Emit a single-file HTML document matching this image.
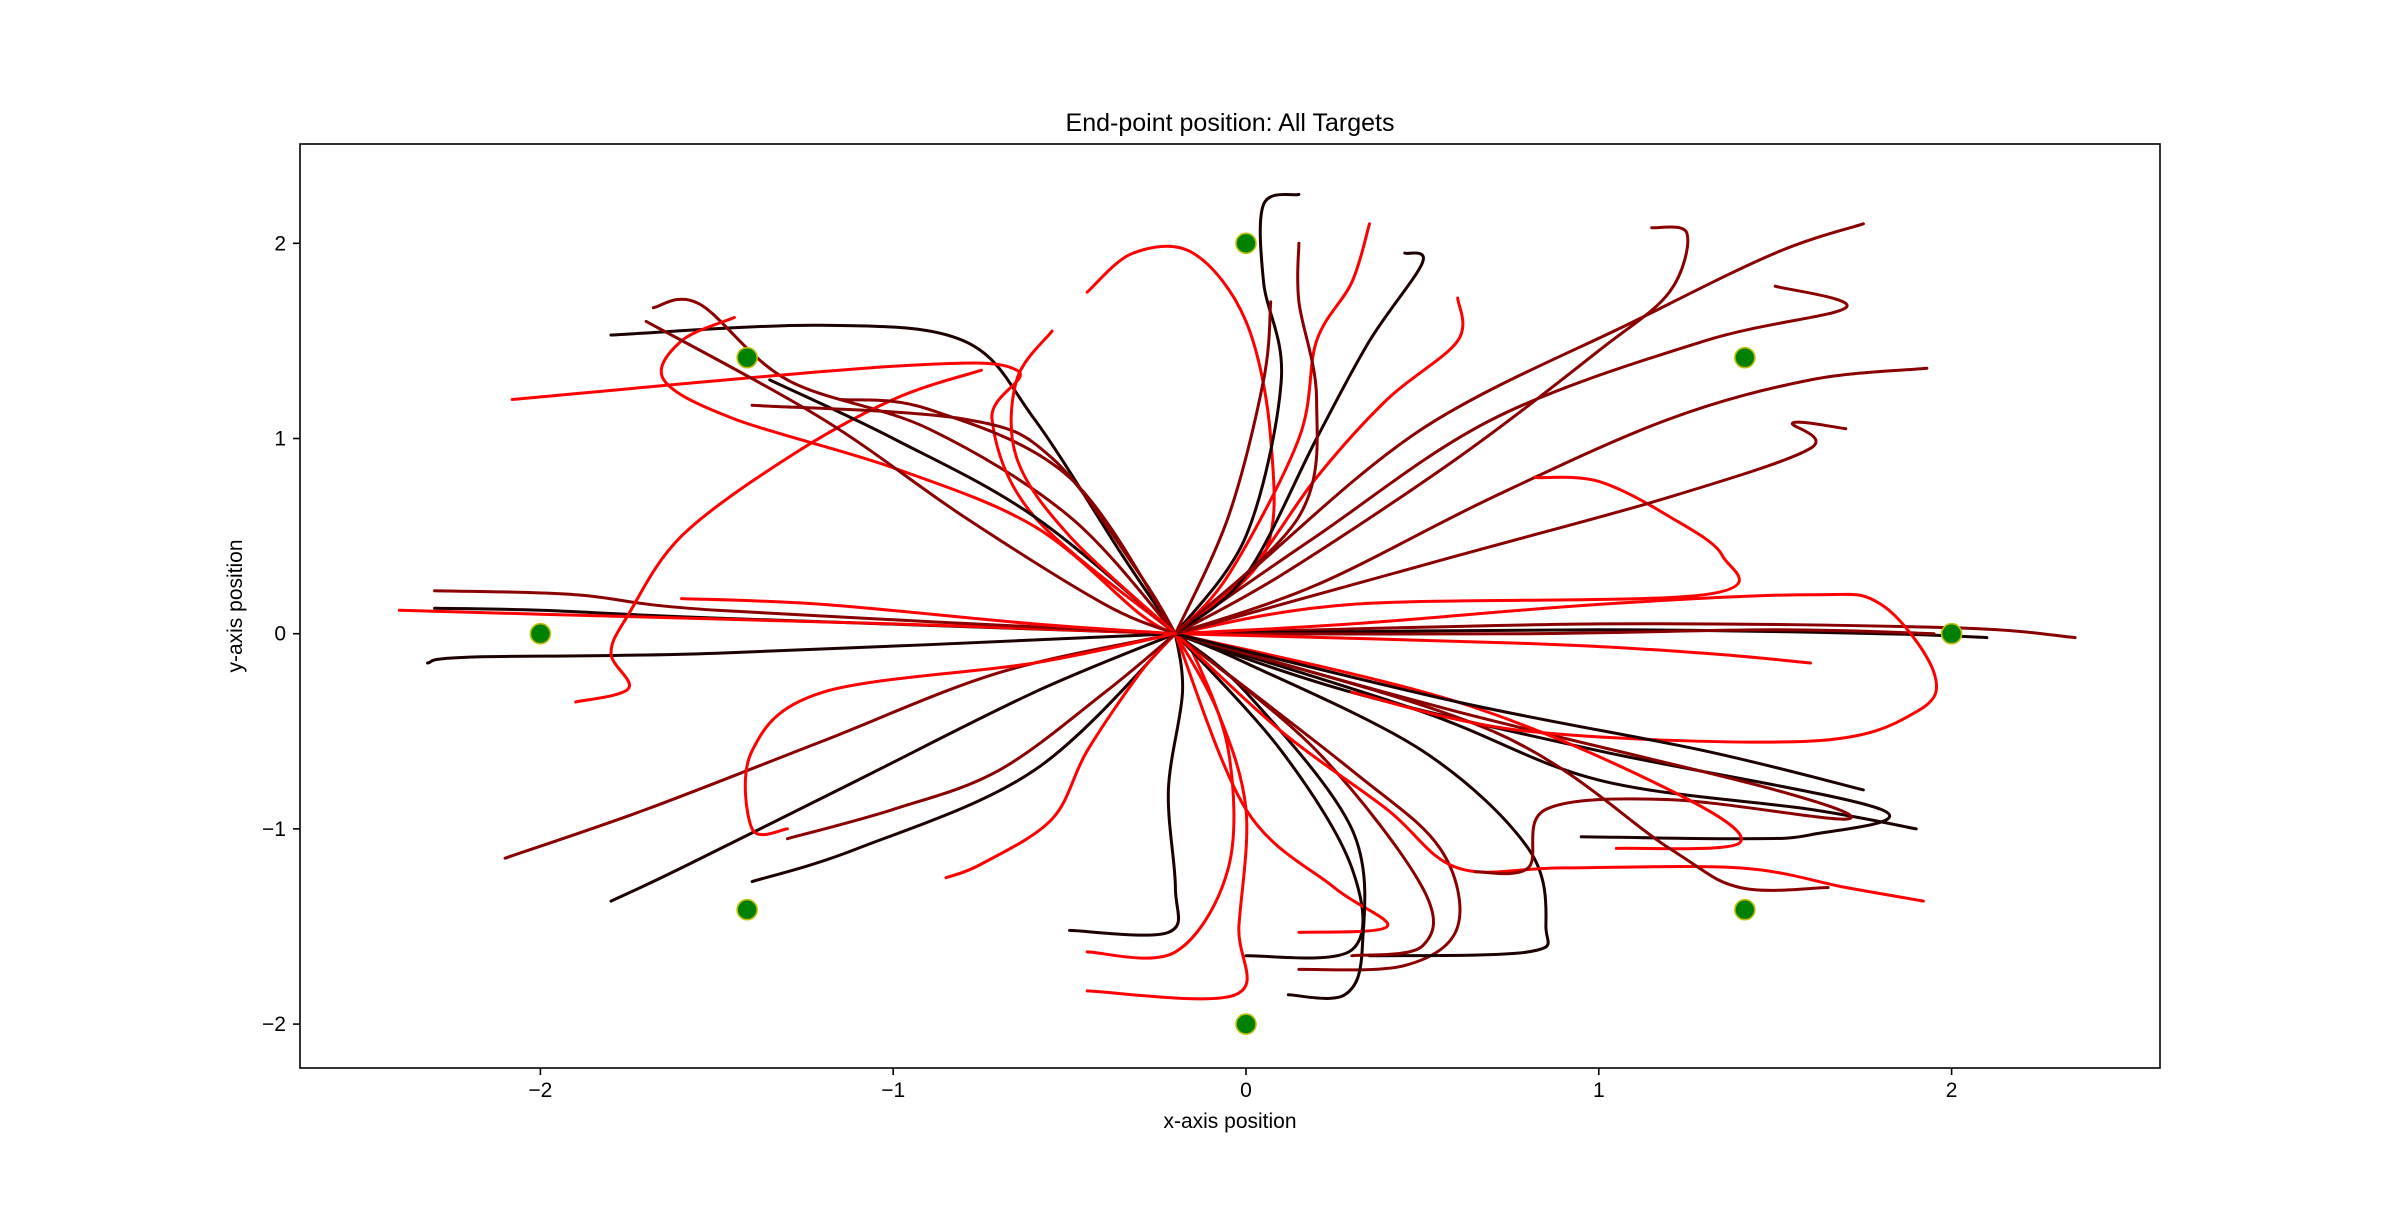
<!DOCTYPE html>
<html><head><meta charset="utf-8"><style>
html,body{margin:0;padding:0;background:#fff;}
svg text{font-family:"Liberation Sans","DejaVu Sans",sans-serif;fill:#000;}
</style></head><body>
<svg id="chart" width="2400" height="1200" viewBox="0 0 2400 1200" xmlns="http://www.w3.org/2000/svg">
<rect width="2400" height="1200" fill="#fff"/>
<text x="1230" y="131" font-size="25" text-anchor="middle">End-point position: All Targets</text>
<g id="plot"></g>
<rect x="300" y="144" width="1860" height="924" fill="none" stroke="#000" stroke-width="1.6"/>
<g id="xticks"></g>
<g id="yticks"></g>
<text x="1230" y="1128" font-size="21" text-anchor="middle">x-axis position</text>
<text x="242" y="606" font-size="21" text-anchor="middle" transform="rotate(-90 242 606)">y-axis position</text>
</svg>
<script>
const xTicks=[-2,-1,0,1,2];
const yTicks=[-2,-1,0,1,2];
const xTickLabels=["−2","−1","0","1","2"];
const yTickLabels=["−2","−1","0","1","2"];
const targetsX=[0,1.414,2,1.414,0,-1.414,-2,-1.414];
const targetsY=[2,1.414,0,-1.414,-2,-1.414,0,1.414];
// trajectory colour shade (0=black, 1=dark red, 2=red)
const trajShade=[0,1,2,2,2,0,2,1,0,2,1,0,0,2,2,1,0,2,0,2,2,1,0,0,1,0,2,0,1,2,1,1,0,1,2,2,0,1,1,1,2,1,2,1,0,0,2,1,1,0,1,1,2,1,2];
const trajectories=[
[[-0.2,0],[-0.35,0.4],[-0.6,1.1],[-0.8,1.5],[-1.2,1.58],[-1.8,1.53]],
[[-0.2,0],[-0.5,0.6],[-0.9,1.05],[-1.3,1.3],[-1.55,1.69],[-1.68,1.67]],
[[-0.2,0],[-0.6,0.6],[-0.72,1.1],[-0.65,1.35],[-1.0,1.37],[-2.08,1.2]],
[[-0.2,0],[-0.3,0.1],[-0.6,0.55],[-1.0,0.85],[-1.45,1.1],[-1.65,1.3],[-1.6,1.5],[-1.45,1.62]],
[[-0.2,0],[0.05,0.4],[0.07,1.0],[0.0,1.6],[-0.15,1.95],[-0.32,1.95],[-0.45,1.75]],
[[-0.2,0],[-1.5,0.08],[-2.0,0.12],[-2.3,0.13]],
[[-0.2,0],[-1.0,0.05],[-2.0,0.1],[-2.4,0.12]],
[[-0.2,0],[-1.5,0.12],[-1.9,0.2],[-2.3,0.22]],
[[-0.2,0],[-1.5,-0.1],[-2.2,-0.12],[-2.32,-0.15]],
[[-0.75,1.35],[-1.0,1.2],[-1.3,0.9],[-1.6,0.5],[-1.75,0.1],[-1.8,-0.1],[-1.75,-0.28],[-1.9,-0.35]],
[[-0.2,0],[-0.7,-0.2],[-1.2,-0.55],[-1.7,-0.9],[-2.1,-1.15]],
[[-0.2,0],[-0.6,-0.3],[-1.1,-0.75],[-1.6,-1.2],[-1.8,-1.37]],
[[-0.2,0],[-0.6,-0.7],[-1.1,-1.1],[-1.4,-1.27]],
[[-0.2,0],[-0.6,-0.15],[-1.2,-0.3],[-1.4,-0.6],[-1.4,-1.0],[-1.3,-1.0]],
[[-0.2,0],[-0.3,-0.2],[-0.45,-0.6],[-0.55,-0.95],[-0.75,-1.18],[-0.85,-1.25]],
[[-0.2,0],[-0.4,-0.3],[-0.7,-0.7],[-1.0,-0.9],[-1.3,-1.05]],
[[-0.2,0],[-0.18,-0.3],[-0.22,-0.8],[-0.2,-1.3],[-0.22,-1.53],[-0.5,-1.52]],
[[-0.2,0],[-0.15,-0.1],[-0.05,-0.6],[-0.05,-1.2],[-0.2,-1.63],[-0.45,-1.63]],
[[-0.2,0],[0.1,-0.6],[0.3,-1.2],[0.3,-1.62],[0.0,-1.65]],
[[-0.2,0],[-0.08,-0.4],[0.0,-0.9],[-0.02,-1.5],[-0.03,-1.85],[-0.45,-1.83]],
[[-0.2,0],[0.0,-0.9],[0.25,-1.3],[0.4,-1.5],[0.15,-1.53]],
[[-0.2,0],[0.3,-0.7],[0.55,-1.1],[0.6,-1.5],[0.45,-1.7],[0.15,-1.72]],
[[-0.2,0],[0.0,-0.3],[0.3,-1.0],[0.33,-1.6],[0.28,-1.85],[0.12,-1.85]],
[[-0.2,0],[0.0,-0.15],[0.5,-0.6],[0.8,-1.1],[0.85,-1.5],[0.8,-1.63],[0.35,-1.65]],
[[-0.2,0],[0.2,-0.6],[0.5,-1.3],[0.5,-1.6],[0.3,-1.65]],
[[-0.2,0],[0.3,-0.3],[1.0,-0.6],[1.8,-0.9],[1.6,-1.03],[1.4,-1.05],[0.95,-1.04]],
[[-0.2,0],[0.1,-0.5],[0.4,-0.9],[0.6,-1.2],[0.9,-1.2],[1.4,-1.2],[1.7,-1.3],[1.92,-1.37]],
[[-0.2,0],[0.5,-0.4],[1.0,-0.75],[1.6,-0.9],[1.9,-1.0]],
[[-0.2,0],[0.6,-0.4],[1.5,-0.8],[1.7,-0.95],[1.2,-0.85],[0.85,-0.9],[0.8,-1.2],[0.65,-1.22]],
[[-0.2,0],[0.6,-0.35],[1.2,-0.8],[1.4,-1.07],[1.05,-1.1]],
[[-0.2,0],[0.7,-0.5],[1.2,-1.1],[1.4,-1.3],[1.65,-1.3]],
[[-0.2,0],[1.0,0.05],[2.0,0.03],[2.35,-0.02]],
[[-0.2,0],[1.0,0.02],[1.8,0.0],[2.1,-0.02]],
[[-0.2,0],[0.8,0.0],[1.5,0.02],[1.95,0.0]],
[[-0.2,0],[0.8,-0.05],[1.3,-0.1],[1.6,-0.15]],
[[-0.2,0],[0.3,0.05],[1.0,0.15],[1.6,0.2],[1.8,0.15],[1.95,-0.2],[1.9,-0.4],[1.6,-0.55],[0.8,-0.5],[0.3,-0.3]],
[[-0.2,0],[0.6,-0.35],[1.3,-0.6],[1.75,-0.8]],
[[-0.2,0],[0.2,0.5],[0.7,1.1],[1.3,1.5],[1.7,1.67],[1.5,1.78]],
[[-0.2,0],[0.0,0.3],[0.5,1.05],[1.1,1.6],[1.5,1.95],[1.75,2.1]],
[[-0.2,0],[0.2,0.25],[0.7,0.7],[1.2,1.1],[1.6,1.3],[1.93,1.36]],
[[-0.2,0],[0.3,0.15],[1.3,0.2],[1.35,0.4],[1.2,0.6],[1.0,0.78],[0.82,0.8]],
[[-0.2,0],[0.6,0.4],[1.2,0.7],[1.6,0.95],[1.55,1.08],[1.7,1.05]],
[[-0.2,0],[0.0,0.3],[0.2,0.8],[0.4,1.2],[0.6,1.5],[0.6,1.72]],
[[-0.2,0],[0.1,0.3],[0.6,0.9],[1.0,1.45],[1.2,1.75],[1.25,2.05],[1.15,2.08]],
[[-0.2,0],[0.0,0.5],[0.1,1.3],[0.05,1.8],[0.05,2.2],[0.15,2.25]],
[[-0.2,0],[0.0,0.3],[0.2,1.0],[0.35,1.5],[0.5,1.9],[0.45,1.95]],
[[-0.2,0],[-0.05,0.3],[0.15,1.0],[0.2,1.5],[0.3,1.8],[0.35,2.1]],
[[-0.2,0],[0.15,0.6],[0.2,1.2],[0.15,1.7],[0.15,2.0]],
[[-0.2,0],[-0.05,0.6],[0.05,1.3],[0.07,1.7]],
[[-0.2,0],[-0.6,0.6],[-1.0,1.0],[-1.35,1.3]],
[[-0.2,0],[-0.5,0.8],[-0.9,1.15],[-1.15,1.2]],
[[-0.2,0],[-0.3,0.3],[-0.55,0.9],[-0.8,1.1],[-1.4,1.17]],
[[-0.2,0],[-0.5,0.5],[-0.65,0.9],[-0.65,1.3],[-0.55,1.55]],
[[-0.2,0],[-0.4,0.15],[-0.8,0.6],[-1.2,1.1],[-1.7,1.6]],
[[-0.2,0],[-0.6,0.05],[-1.2,0.15],[-1.6,0.18]]
];
const X0=1246,XS=352.8,Y0=633.7,YS=195.2;
const sx=v=>X0+v*XS, sy=v=>Y0-v*YS;
const NS="http://www.w3.org/2000/svg";
const colors=["#1c0000","#8a0000","#ff0000"];
const plot=document.getElementById('plot');
function pathFor(pts){
  const p=pts.map(q=>[sx(q[0]),sy(q[1])]);
  let d="M"+p[0][0].toFixed(1)+","+p[0][1].toFixed(1);
  for(let i=0;i<p.length-1;i++){
    const a=p[Math.max(i-1,0)],b=p[i],c=p[i+1],e=p[Math.min(i+2,p.length-1)];
    const c1=[b[0]+(c[0]-a[0])/6,b[1]+(c[1]-a[1])/6];
    const c2=[c[0]-(e[0]-b[0])/6,c[1]-(e[1]-b[1])/6];
    d+=" C"+c1.map(v=>v.toFixed(1))+" "+c2.map(v=>v.toFixed(1))+" "+c[0].toFixed(1)+","+c[1].toFixed(1);
  }
  return d;
}
trajectories.forEach((t,i)=>{
  const el=document.createElementNS(NS,'path');
  el.setAttribute('d',pathFor(t));
  el.setAttribute('fill','none');
  el.setAttribute('stroke',colors[trajShade[i%trajShade.length]]);
  el.setAttribute('stroke-width','3');
  el.setAttribute('stroke-linejoin','round');
  el.setAttribute('stroke-linecap','round');
  
  
  plot.appendChild(el);
});
targetsX.forEach((x,i)=>{
  const c=document.createElementNS(NS,'circle');
  c.setAttribute('cx',sx(x));c.setAttribute('cy',sy(targetsY[i]));c.setAttribute('r','10');
  c.setAttribute('fill','#008000');c.setAttribute('stroke','#bfbf00');c.setAttribute('stroke-width','1.6');
  
  
  plot.appendChild(c);
});
const xg=document.getElementById('xticks'), yg=document.getElementById('yticks');
xTicks.forEach((v,i)=>{
  const l=document.createElementNS(NS,'line');
  l.setAttribute('x1',sx(v));l.setAttribute('x2',sx(v));l.setAttribute('y1',1068);l.setAttribute('y2',1075);
  l.setAttribute('stroke','#000');l.setAttribute('stroke-width','1.6');
  
  
  xg.appendChild(l);
  const t=document.createElementNS(NS,'text');
  t.setAttribute('x',sx(v));t.setAttribute('y',1097);t.setAttribute('font-size','21');t.setAttribute('text-anchor','middle');
  t.textContent=xTickLabels[i];
  
  
  xg.appendChild(t);
});
yTicks.forEach((v,i)=>{
  const l=document.createElementNS(NS,'line');
  l.setAttribute('x1',293);l.setAttribute('x2',300);l.setAttribute('y1',sy(v));l.setAttribute('y2',sy(v));
  l.setAttribute('stroke','#000');l.setAttribute('stroke-width','1.6');
  
  
  yg.appendChild(l);
  const t=document.createElementNS(NS,'text');
  t.setAttribute('x',286);t.setAttribute('y',sy(v)+7);t.setAttribute('font-size','21');t.setAttribute('text-anchor','end');
  t.textContent=yTickLabels[i];
  
  
  yg.appendChild(t);
});
</script>
</body></html>
